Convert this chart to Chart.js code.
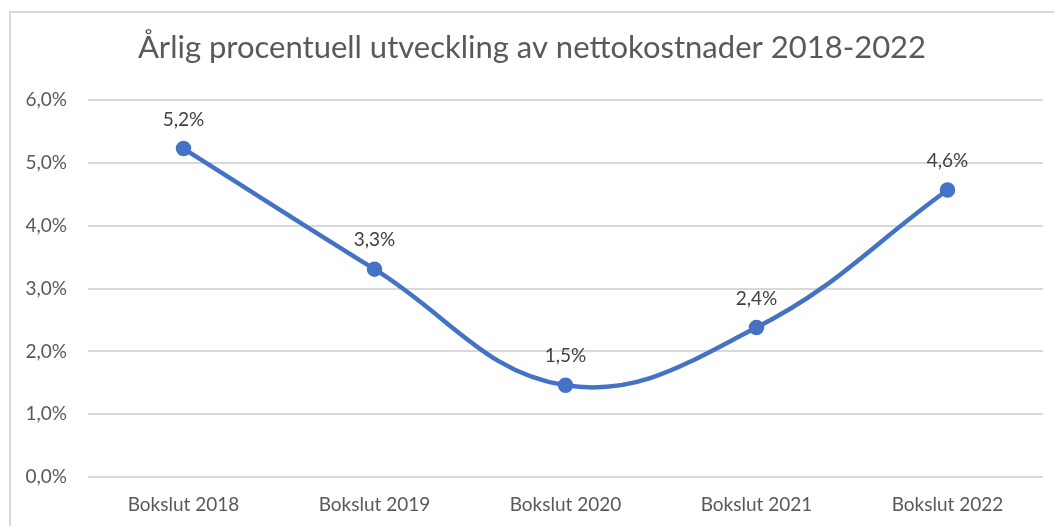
<!DOCTYPE html>
<html>
<head>
<meta charset="utf-8">
<script src="https://cdn.jsdelivr.net/npm/chart.js@4/dist/chart.umd.min.js"></script>
<style>
    body { margin: 0; background: #fff; }
    #box {
        position: absolute; left: 9px; top: 11px; width: 1045px; height: 515px;
        border-left: 2px solid #d9d9d9; border-top: 2px solid #d9d9d9;
    }
</style>
</head>
<body>
<div id="box"><canvas id="chart-utveckling"></canvas></div>
<script>
// data
var kategorier = ['Bokslut 2018', 'Bokslut 2019', 'Bokslut 2020', 'Bokslut 2021', 'Bokslut 2022'];
var utveckling = [5.23, 3.31, 1.46, 2.38, 4.57];
var yTicks = [0, 1, 2, 3, 4, 5, 6];

var titel = 'Årlig procentuell utveckling av nettokostnader 2018-2022';
var fontNamn = 'Lato, "Open Sans", sans-serif';

function procent(v) {
    return v.toFixed(1).replace('.', ',') + '%';
}

// etiketter ovanför punkterna
var etikettPlugin = {
    id: 'etiketter',
    afterDatasetsDraw: function (chart) {
        var ctx = chart.ctx;
        var meta = chart.getDatasetMeta(0);
        ctx.save();
        ctx.font = '19px ' + fontNamn;
        ctx.fillStyle = '#404040';
        ctx.textAlign = 'center';
        ctx.textBaseline = 'middle';
        meta.data.forEach(function (p, i) {
            ctx.fillText(procent(utveckling[i]), p.x, p.y - 29);
        });
        ctx.restore();
    }
};

var ctx = document.getElementById('chart-utveckling').getContext('2d');
var myChart = new Chart(ctx, {
    type: 'line',
    data: {
        labels: kategorier,
        datasets: [{
            data: utveckling,
            borderColor: '#4472c4',
            backgroundColor: '#4472c4',
            borderWidth: 4.5,
            pointRadius: 5.5,
            pointHoverRadius: 5.5,
            tension: 0.4,
            fill: false
        }]
    },
    options: {
        responsive: true,
        maintainAspectRatio: false,
        animation: false,
        layout: { padding: { left: 10, right: 13, top: 0, bottom: 0 } },
        plugins: {
            legend: { display: false },
            tooltip: { enabled: false },
            title: {
                display: true,
                text: titel,
                color: '#595959',
                font: { family: fontNamn, size: 31, weight: 'normal' },
                padding: { top: 16, bottom: 34 }
            }
        },
        scales: {
            x: {
                offset: true,
                grid: { display: false, drawTicks: false },
                border: { display: false },
                ticks: { color: '#595959', font: { family: fontNamn, size: 19 }, padding: 16, maxRotation: 0 },
                afterFit: function (scale) { scale.height = 51; }
            },
            y: {
                min: 0,
                max: 6,
                afterBuildTicks: function (scale) {
                    scale.ticks = yTicks.map(function (v) { return { value: v }; });
                },
                grid: { color: '#d9d9d9', lineWidth: 2, drawTicks: false },
                border: { display: false },
                ticks: {
                    color: '#595959',
                    font: { family: fontNamn, size: 19 },
                    padding: 21,
                    callback: function (v) { return procent(v); }
                },
                afterFit: function (scale) { scale.width = 67; }
            }
        }
    },
    plugins: [etikettPlugin]
});
</script>
</body>
</html>
